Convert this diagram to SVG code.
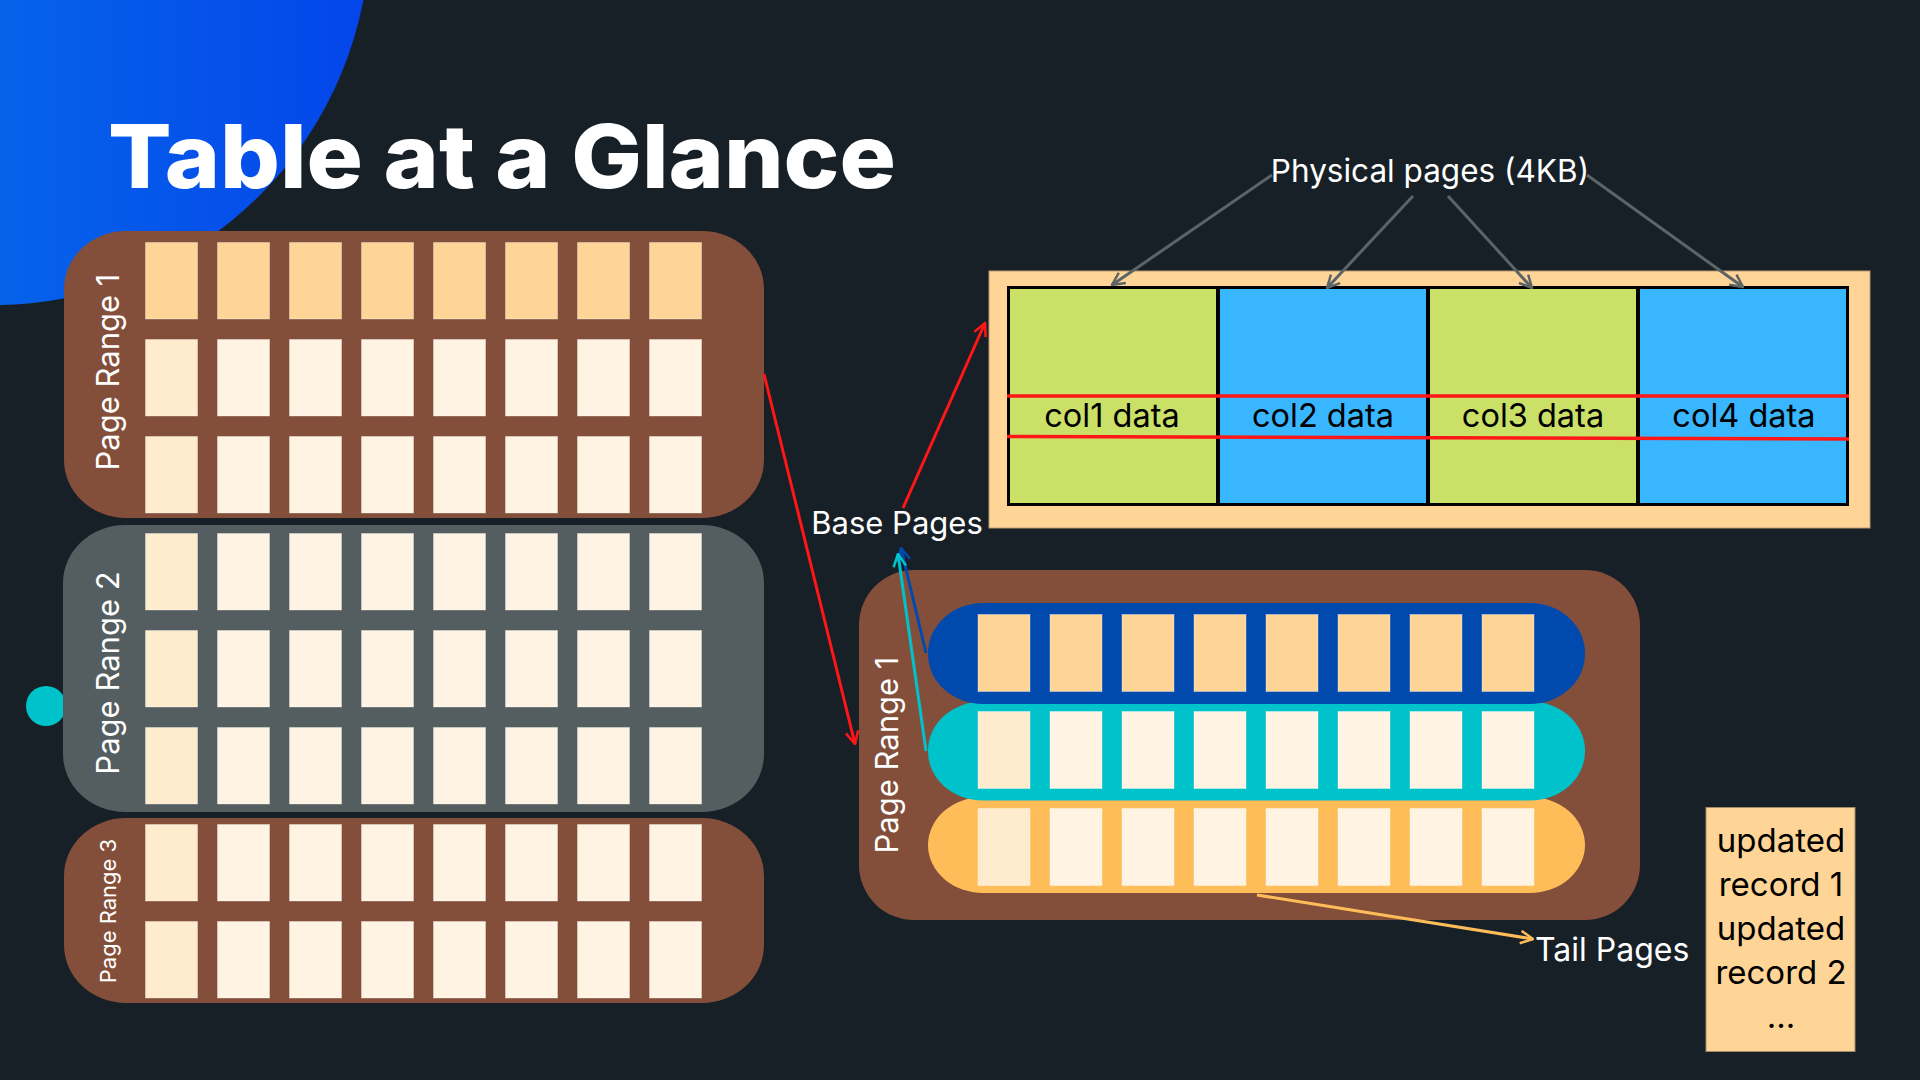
<svg xmlns="http://www.w3.org/2000/svg" width="1920" height="1080" viewBox="0 0 1920 1080">
<defs>
<linearGradient id="bg1" x1="0" y1="0" x2="1" y2="0">
<stop offset="0" stop-color="#0882ea"/>
<stop offset="1" stop-color="#0445ea"/>
</linearGradient>
<marker id="mGray" viewBox="0 0 12 12" refX="11" refY="6" markerWidth="15" markerHeight="15" markerUnits="userSpaceOnUse" orient="auto"><path d="M1,1 L11,6 L1,11" fill="none" stroke="#5c6468" stroke-width="2"/></marker>
<marker id="mRed" viewBox="0 0 12 12" refX="11" refY="6" markerWidth="15" markerHeight="15" markerUnits="userSpaceOnUse" orient="auto"><path d="M1,1 L11,6 L1,11" fill="none" stroke="#ff1616" stroke-width="2"/></marker>
<marker id="mBlue" viewBox="0 0 12 12" refX="11" refY="6" markerWidth="15" markerHeight="15" markerUnits="userSpaceOnUse" orient="auto"><path d="M1,1 L11,6 L1,11" fill="none" stroke="#004aad" stroke-width="2"/></marker>
<marker id="mTeal" viewBox="0 0 12 12" refX="11" refY="6" markerWidth="15" markerHeight="15" markerUnits="userSpaceOnUse" orient="auto"><path d="M1,1 L11,6 L1,11" fill="none" stroke="#00c2cb" stroke-width="2"/></marker>
<marker id="mOrange" viewBox="0 0 12 12" refX="11" refY="6" markerWidth="15" markerHeight="15" markerUnits="userSpaceOnUse" orient="auto"><path d="M1,1 L11,6 L1,11" fill="none" stroke="#ffbd59" stroke-width="2"/></marker>
</defs>
<style>
text{font-family:Inter,"Liberation Sans",sans-serif}
.t{fill:#ffffff}
.lbl{fill:#ffffff;font-size:31px}
.cH{fill:#fed597;stroke:#ffffff;stroke-opacity:0.35;stroke-width:1}
.cL{fill:#fff3e3;stroke:#ffffff;stroke-opacity:0.35;stroke-width:1}
.cF{fill:#ffebcd;stroke:#ffffff;stroke-opacity:0.35;stroke-width:1}
.brown{fill:#844f3a}
.col{font-size:32.5px;fill:#000000;text-anchor:middle}
.rec{font-size:33px;fill:#000000;text-anchor:middle}
</style>
<rect width="1920" height="1080" fill="#171f27"/>
<ellipse cx="-6" cy="-70" rx="376" ry="375" fill="url(#bg1)"/>
<text x="108" y="188" class="t" font-size="88" font-weight="800" textLength="788" lengthAdjust="spacingAndGlyphs">Table at a Glance</text>

<g id="page-range-1">
<rect x="64" y="231" width="700" height="287" rx="62" ry="58" class="brown"/>
<text class="lbl" transform="translate(119,372) rotate(-90)" text-anchor="middle">Page Range 1</text>
<g>
<rect x="145.5" y="242.5" width="52" height="76.5" class="cH"/><rect x="217.5" y="242.5" width="52" height="76.5" class="cH"/><rect x="289.5" y="242.5" width="52" height="76.5" class="cH"/><rect x="361.5" y="242.5" width="52" height="76.5" class="cH"/><rect x="433.5" y="242.5" width="52" height="76.5" class="cH"/><rect x="505.5" y="242.5" width="52" height="76.5" class="cH"/><rect x="577.5" y="242.5" width="52" height="76.5" class="cH"/><rect x="649.5" y="242.5" width="52" height="76.5" class="cH"/>
<rect x="145.5" y="339.5" width="52" height="76.5" class="cF"/><rect x="217.5" y="339.5" width="52" height="76.5" class="cL"/><rect x="289.5" y="339.5" width="52" height="76.5" class="cL"/><rect x="361.5" y="339.5" width="52" height="76.5" class="cL"/><rect x="433.5" y="339.5" width="52" height="76.5" class="cL"/><rect x="505.5" y="339.5" width="52" height="76.5" class="cL"/><rect x="577.5" y="339.5" width="52" height="76.5" class="cL"/><rect x="649.5" y="339.5" width="52" height="76.5" class="cL"/>
<rect x="145.5" y="436.5" width="52" height="76.5" class="cF"/><rect x="217.5" y="436.5" width="52" height="76.5" class="cL"/><rect x="289.5" y="436.5" width="52" height="76.5" class="cL"/><rect x="361.5" y="436.5" width="52" height="76.5" class="cL"/><rect x="433.5" y="436.5" width="52" height="76.5" class="cL"/><rect x="505.5" y="436.5" width="52" height="76.5" class="cL"/><rect x="577.5" y="436.5" width="52" height="76.5" class="cL"/><rect x="649.5" y="436.5" width="52" height="76.5" class="cL"/>
</g>
</g>

<g id="teal-dot"><circle cx="46" cy="706" r="20" fill="#00c2cb"/></g>

<g id="page-range-2">
<rect x="63" y="525" width="701" height="287" rx="62" ry="58" fill="#545e60"/>
<text class="lbl" transform="translate(119,673) rotate(-90)" text-anchor="middle">Page Range 2</text>
<g>
<rect x="145.5" y="533.5" width="52" height="76.5" class="cF"/><rect x="217.5" y="533.5" width="52" height="76.5" class="cL"/><rect x="289.5" y="533.5" width="52" height="76.5" class="cL"/><rect x="361.5" y="533.5" width="52" height="76.5" class="cL"/><rect x="433.5" y="533.5" width="52" height="76.5" class="cL"/><rect x="505.5" y="533.5" width="52" height="76.5" class="cL"/><rect x="577.5" y="533.5" width="52" height="76.5" class="cL"/><rect x="649.5" y="533.5" width="52" height="76.5" class="cL"/>
<rect x="145.5" y="630.5" width="52" height="76.5" class="cF"/><rect x="217.5" y="630.5" width="52" height="76.5" class="cL"/><rect x="289.5" y="630.5" width="52" height="76.5" class="cL"/><rect x="361.5" y="630.5" width="52" height="76.5" class="cL"/><rect x="433.5" y="630.5" width="52" height="76.5" class="cL"/><rect x="505.5" y="630.5" width="52" height="76.5" class="cL"/><rect x="577.5" y="630.5" width="52" height="76.5" class="cL"/><rect x="649.5" y="630.5" width="52" height="76.5" class="cL"/>
<rect x="145.5" y="727.5" width="52" height="76.5" class="cF"/><rect x="217.5" y="727.5" width="52" height="76.5" class="cL"/><rect x="289.5" y="727.5" width="52" height="76.5" class="cL"/><rect x="361.5" y="727.5" width="52" height="76.5" class="cL"/><rect x="433.5" y="727.5" width="52" height="76.5" class="cL"/><rect x="505.5" y="727.5" width="52" height="76.5" class="cL"/><rect x="577.5" y="727.5" width="52" height="76.5" class="cL"/><rect x="649.5" y="727.5" width="52" height="76.5" class="cL"/>
</g>
</g>

<g id="page-range-3">
<rect x="64" y="818" width="700" height="185" rx="62" ry="58" class="brown"/>
<text class="lbl" style="font-size:22px" transform="translate(116,911) rotate(-90)" text-anchor="middle">Page Range 3</text>
<g>
<rect x="145.5" y="824.5" width="52" height="76.5" class="cF"/><rect x="217.5" y="824.5" width="52" height="76.5" class="cL"/><rect x="289.5" y="824.5" width="52" height="76.5" class="cL"/><rect x="361.5" y="824.5" width="52" height="76.5" class="cL"/><rect x="433.5" y="824.5" width="52" height="76.5" class="cL"/><rect x="505.5" y="824.5" width="52" height="76.5" class="cL"/><rect x="577.5" y="824.5" width="52" height="76.5" class="cL"/><rect x="649.5" y="824.5" width="52" height="76.5" class="cL"/>
<rect x="145.5" y="921.5" width="52" height="76.5" class="cF"/><rect x="217.5" y="921.5" width="52" height="76.5" class="cL"/><rect x="289.5" y="921.5" width="52" height="76.5" class="cL"/><rect x="361.5" y="921.5" width="52" height="76.5" class="cL"/><rect x="433.5" y="921.5" width="52" height="76.5" class="cL"/><rect x="505.5" y="921.5" width="52" height="76.5" class="cL"/><rect x="577.5" y="921.5" width="52" height="76.5" class="cL"/><rect x="649.5" y="921.5" width="52" height="76.5" class="cL"/>
</g>
</g>

<g id="physical-pages">
<rect x="989" y="271" width="881" height="257" fill="#fed597" stroke="#b89a70" stroke-width="1"/>
<rect x="1007" y="286" width="842" height="220" fill="#000000"/>
<rect x="1010" y="289" width="206" height="214" fill="#cbe066"/>
<rect x="1220" y="289" width="206" height="214" fill="#38b6ff"/>
<rect x="1430" y="289" width="206" height="214" fill="#cbe066"/>
<rect x="1640" y="289" width="206" height="214" fill="#38b6ff"/>
<line x1="1007" y1="396" x2="1849" y2="396" stroke="#ff1616" stroke-width="3.5"/>
<line x1="1007" y1="436.5" x2="1849" y2="439" stroke="#ff1616" stroke-width="3.5"/>
<text x="1112" y="427" class="col">col1 data</text>
<text x="1323" y="427" class="col">col2 data</text>
<text x="1533" y="427" class="col">col3 data</text>
<text x="1744" y="427" class="col">col4 data</text>
</g>

<g id="physical-pages-label"><text x="1430" y="182" class="t" font-size="31.5" text-anchor="middle">Physical pages (4KB)</text></g>

<g id="base-pages-label"><text x="897" y="534" class="t" font-size="31" text-anchor="middle">Base Pages</text></g>

<g id="page-range-1-detail">
<rect x="859" y="570" width="781" height="350" rx="55" ry="55" class="brown"/>
<text class="lbl" transform="translate(898,755) rotate(-90)" text-anchor="middle">Page Range 1</text>
<g id="tail-row">
<rect x="928" y="797" width="657" height="96" rx="55" ry="48" fill="#ffbd59"/>
<rect x="978" y="808.5" width="52" height="77" class="cF" stroke="none"/><rect x="1050" y="808.5" width="52" height="77" class="cL" stroke="none"/><rect x="1122" y="808.5" width="52" height="77" class="cL" stroke="none"/><rect x="1194" y="808.5" width="52" height="77" class="cL" stroke="none"/><rect x="1266" y="808.5" width="52" height="77" class="cL" stroke="none"/><rect x="1338" y="808.5" width="52" height="77" class="cL" stroke="none"/><rect x="1410" y="808.5" width="52" height="77" class="cL" stroke="none"/><rect x="1482" y="808.5" width="52" height="77" class="cL" stroke="none"/>
</g>
<g id="teal-row">
<rect x="928" y="701.5" width="657" height="99" rx="55" ry="49" fill="#00c2cb"/>
<rect x="978" y="711.5" width="52" height="77" class="cF" stroke="none"/><rect x="1050" y="711.5" width="52" height="77" class="cL" stroke="none"/><rect x="1122" y="711.5" width="52" height="77" class="cL" stroke="none"/><rect x="1194" y="711.5" width="52" height="77" class="cL" stroke="none"/><rect x="1266" y="711.5" width="52" height="77" class="cL" stroke="none"/><rect x="1338" y="711.5" width="52" height="77" class="cL" stroke="none"/><rect x="1410" y="711.5" width="52" height="77" class="cL" stroke="none"/><rect x="1482" y="711.5" width="52" height="77" class="cL" stroke="none"/>
</g>
<g id="blue-row">
<rect x="928" y="603" width="657" height="101" rx="55" ry="50" fill="#004aad"/>
<rect x="978" y="614.5" width="52" height="77" class="cH" stroke="none"/><rect x="1050" y="614.5" width="52" height="77" class="cH" stroke="none"/><rect x="1122" y="614.5" width="52" height="77" class="cH" stroke="none"/><rect x="1194" y="614.5" width="52" height="77" class="cH" stroke="none"/><rect x="1266" y="614.5" width="52" height="77" class="cH" stroke="none"/><rect x="1338" y="614.5" width="52" height="77" class="cH" stroke="none"/><rect x="1410" y="614.5" width="52" height="77" class="cH" stroke="none"/><rect x="1482" y="614.5" width="52" height="77" class="cH" stroke="none"/>
</g>
</g>

<g id="tail-pages-label"><text x="1535" y="961" class="t" font-size="32">Tail Pages</text></g>

<g id="updated-records">
<rect x="1706" y="807.5" width="149" height="244" fill="#fed597" stroke="#a08a6a" stroke-width="1"/>
<text x="1781" y="852" class="rec">updated</text>
<text x="1781" y="896" class="rec">record 1</text>
<text x="1781" y="940" class="rec">updated</text>
<text x="1781" y="984" class="rec">record 2</text>
<text x="1781" y="1028" class="rec">...</text>
</g>

<g id="connectors" fill="none" stroke-width="3">
<line x1="1272" y1="175" x2="1112" y2="285" stroke="#5c6468" marker-end="url(#mGray)"/>
<line x1="1413" y1="196" x2="1327" y2="288" stroke="#5c6468" marker-end="url(#mGray)"/>
<line x1="1448" y1="196" x2="1532" y2="288" stroke="#5c6468" marker-end="url(#mGray)"/>
<line x1="1587" y1="175" x2="1743" y2="287" stroke="#5c6468" marker-end="url(#mGray)"/>
<line x1="764" y1="374" x2="855" y2="744" stroke="#ff1616" marker-end="url(#mRed)"/>
<line x1="903" y1="508" x2="985" y2="323" stroke="#ff1616" marker-end="url(#mRed)"/>
<line x1="926" y1="653" x2="901" y2="548" stroke="#004aad" marker-end="url(#mBlue)"/>
<line x1="926" y1="751" x2="898" y2="554" stroke="#00c2cb" marker-end="url(#mTeal)"/>
<line x1="1257" y1="895" x2="1533" y2="939" stroke="#ffbd59" marker-end="url(#mOrange)"/>
</g>
</svg>
